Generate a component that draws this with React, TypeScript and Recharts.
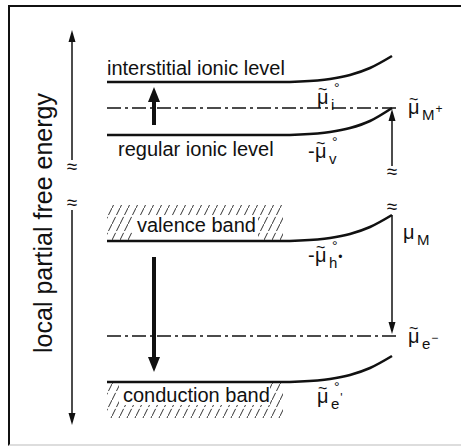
import { ComposedChart, Line, Scatter, XAxis, YAxis, ReferenceLine, ReferenceArea } from "recharts";

const W = 461;
const H = 446;
const FONT = "'Liberation Sans', Arial, Helvetica, sans-serif";
const INK = "#111";

// schematic coordinates: x = position in the crystal, y = local partial free energy (up = higher)
const levelX = [107, 280, 300, 330, 350, 370, 392];
const interstitialLevel = [364, 364, 364.5, 367, 371, 378, 390];
const regularLevel = [311, 311, 311.5, 314, 318, 325, 338];
const valenceBand = [205, 205, 205.5, 208, 212, 219, 231];
const conductionBand = [64, 64, 64.5, 67, 71, 78, 90];

// dash-dot chemical potential levels
const chemPotLevels = [338, 110];
const chemPotSpan = [107, 398];

// hatched band regions and the white patches behind their names
const bandBoxes = [
  { x1: 107, x2: 283, y1: 205, y2: 241 },
  { x1: 107, x2: 283, y1: 28, y2: 64 },
];
const bandTextPatches = [
  { x1: 132, x2: 258, y1: 205, y2: 230 },
  { x1: 119, x2: 270, y1: 41, y2: 64 },
];

const arrows = [
  { x: 72, tail: 286, tip: 416, thick: false },
  { x: 72, tail: 236, tip: 21, thick: false },
  { x: 392, tail: 280, tip: 337, thick: false },
  { x: 392, tail: 231, tip: 112, thick: false },
  { x: 154, tail: 321, tip: 359, thick: true },
  { x: 154, tail: 189, tip: 74, thick: true },
];

const breakMarks = [
  { x: 72, y: 279 },
  { x: 72, y: 243 },
  { x: 392, y: 274 },
  { x: 392, y: 239 },
];

const levelLabels = [
  { x: 107, y: 371, text: "interstitial ionic level" },
  { x: 118, y: 290, text: "regular ionic level" },
  { x: 137, y: 214, text: "valence band" },
  { x: 123, y: 44, text: "conduction band" },
];

const potLabels = [
  { x: 317, y: 342, minus: false, tilde: true, ring: true, sub: "i", after: "" },
  { x: 308, y: 288, minus: true, tilde: true, ring: true, sub: "v", after: "" },
  { x: 408, y: 332, minus: false, tilde: true, ring: false, sub: "M", after: "+" },
  { x: 403, y: 207, minus: false, tilde: false, ring: false, sub: "M", after: "" },
  { x: 308, y: 184, minus: true, tilde: true, ring: true, sub: "h", after: "•" },
  { x: 408, y: 103, minus: false, tilde: true, ring: false, sub: "e", after: "−" },
  { x: 317, y: 43, minus: false, tilde: true, ring: true, sub: "e", after: "'" },
];

const axisTitle = [{ x: 52, y: 223, text: "local partial free energy" }];

const pts = (ys: number[]) => ys.map((y, i) => ({ x: levelX[i], y }));

const TextShape = (p: any) => (
  <text x={p.cx} y={p.cy} fontSize={20} fill={INK} fontFamily={FONT}>
    {p.payload.text}
  </text>
);

const TitleShape = (p: any) => (
  <text
    x={p.cx}
    y={p.cy}
    fontSize={25}
    fill={INK}
    fontFamily={FONT}
    textAnchor="middle"
    transform={`rotate(-90 ${p.cx} ${p.cy})`}
  >
    {p.payload.text}
  </text>
);

const BreakShape = (p: any) => (
  <text x={p.cx} y={p.cy + 6} fontSize={19} fill={INK} fontFamily={FONT} textAnchor="middle">
    ≈
  </text>
);

// one <text> per label: μ, tilde, ring, subscript and trailing charge mark
const PotShape = (p: any) => {
  const d = p.payload;
  const mx = p.cx + (d.minus ? 7 : 0);
  return (
    <text fontFamily={FONT} fill={INK}>
      {d.minus && (
        <tspan x={p.cx} y={p.cy} fontSize={20}>
          -
        </tspan>
      )}
      <tspan x={mx} y={p.cy} fontSize={20}>
        μ
      </tspan>
      {d.tilde && (
        <tspan x={mx + 1} y={p.cy - 9} fontSize={16}>
          ~
        </tspan>
      )}
      {d.ring && (
        <tspan x={mx + 17} y={p.cy - 11} fontSize={14}>
          °
        </tspan>
      )}
      <tspan x={mx + 14} y={p.cy + 6} fontSize={15}>
        {d.sub}
      </tspan>
      {d.after && (
        <tspan dx={1} dy={-7} fontSize={12}>
          {d.after}
        </tspan>
      )}
    </text>
  );
};

const arrowHead = (thick: boolean, up: boolean) => (p: any) => {
  if (p.index !== 1) return <g key={p.key} />;
  const w = thick ? 12 : 7;
  const len = thick ? 15 : 12;
  const s = up ? 1 : -1;
  const { cx, cy } = p;
  return (
    <polygon
      key={p.key}
      points={`${cx},${cy} ${cx - w / 2},${cy + s * len} ${cx + w / 2},${cy + s * len}`}
      fill={INK}
    />
  );
};

export default function App() {
  return (
    <div style={{ position: "absolute", left: 0, top: 0, width: W, height: H, background: "#fff" }}>
      <div
        style={{
          position: "absolute",
          left: 8,
          top: 5,
          width: W - 8,
          height: H - 5,
          boxSizing: "border-box",
          borderTop: "2px solid #111",
          borderLeft: "2px solid #111",
          borderBottom: "2px solid #ddd",
        }}
      />
      <div style={{ position: "absolute", left: 0, top: 0 }}>
        <ComposedChart width={W} height={H} margin={{ top: 0, right: 0, bottom: 0, left: 0 }}>
          <defs>
            <pattern id="hatch" patternUnits="userSpaceOnUse" width="8" height="16">
              <line x1="0" y1="16" x2="8" y2="0" stroke="#333" strokeWidth="1" strokeDasharray="8 2" />
            </pattern>
          </defs>
          <XAxis dataKey="x" type="number" domain={[0, W]} hide allowDataOverflow />
          <YAxis dataKey="y" type="number" domain={[0, H]} hide allowDataOverflow />

          {bandBoxes.map((b, i) => (
            <ReferenceArea key={`hb${i}`} {...b} fill="url(#hatch)" fillOpacity={1} stroke="none" />
          ))}
          {bandTextPatches.map((b, i) => (
            <ReferenceArea key={`tp${i}`} {...b} fill="#fff" fillOpacity={1} stroke="none" />
          ))}

          {chemPotLevels.map((y, i) => (
            <ReferenceLine
              key={`cp${i}`}
              segment={[
                { x: chemPotSpan[0], y },
                { x: chemPotSpan[1], y },
              ]}
              stroke={INK}
              strokeWidth={1.5}
              strokeDasharray="14 4 3 4"
            />
          ))}

          {[interstitialLevel, regularLevel, valenceBand, conductionBand].map((ys, i) => (
            <Line
              key={`lv${i}`}
              data={pts(ys)}
              dataKey="y"
              type="monotone"
              stroke={INK}
              strokeWidth={2.6}
              dot={false}
              activeDot={false}
              isAnimationActive={false}
            />
          ))}

          {arrows.map((a, i) => {
            const len = Math.abs(a.tip - a.tail);
            const head = a.thick ? 15 : 12;
            return (
              <Line
                key={`ar${i}`}
                data={[
                  { x: a.x, y: a.tail },
                  { x: a.x, y: a.tip },
                ]}
                dataKey="y"
                type="linear"
                stroke={INK}
                strokeWidth={a.thick ? 4 : 1.5}
                strokeDasharray={`${len - head + 2} 2000`}
                dot={arrowHead(a.thick, a.tip > a.tail)}
                activeDot={false}
                isAnimationActive={false}
              />
            );
          })}

          <Scatter data={levelLabels} shape={TextShape} isAnimationActive={false} />
          <Scatter data={potLabels} shape={PotShape} isAnimationActive={false} />
          <Scatter data={breakMarks} shape={BreakShape} isAnimationActive={false} />
          <Scatter data={axisTitle} shape={TitleShape} isAnimationActive={false} />
        </ComposedChart>
      </div>
    </div>
  );
}
